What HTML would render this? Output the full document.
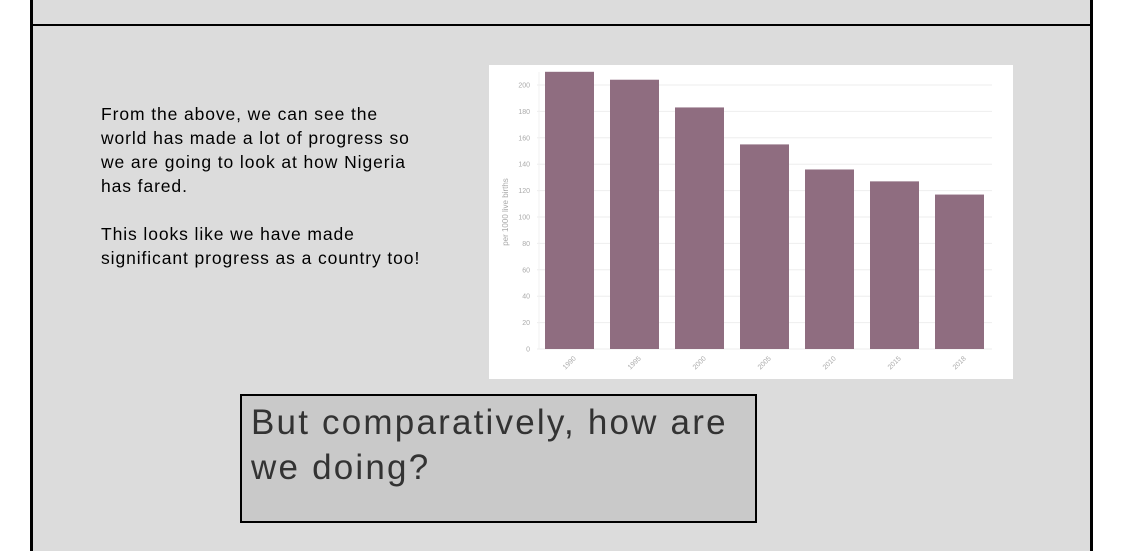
<!DOCTYPE html>
<html><head><meta charset="utf-8"><style>
body{margin:0;width:1122px;height:551px;background:#fff;position:relative;overflow:hidden;font-family:"Liberation Sans",sans-serif}
.panel{position:absolute;left:30px;top:0;width:1057px;height:551px;background:#dcdcdc;border-left:3px solid #000;border-right:3px solid #000}
.hline{position:absolute;left:33px;top:24px;width:1057px;height:2px;background:#000}
.txt{position:absolute;left:101px;top:102px;font-size:17.5px;line-height:24px;color:#000;white-space:nowrap;letter-spacing:0.9px}
.callout{position:absolute;left:240px;top:394px;width:517px;height:129px;background:#c9c9c9;border:2px solid #000;color:#333;font-size:35px;line-height:45px;padding:4px 0 0 9px;box-sizing:border-box;white-space:nowrap;letter-spacing:2.2px}
</style></head><body>
<div class="panel"></div>
<div class="hline"></div>
<div class="txt">From the above, we can see the<br>world has made a lot of progress so<br>we are going to look at how Nigeria<br>has fared.<br><br>This looks like we have made<br>significant progress as a country too!</div>
<svg id="chart" style="position:absolute;left:0;top:0" width="1122" height="551"></svg>
<div class="callout">But comparatively, how are<br>we doing?</div>
<script>
const categories=["1990","1995","2000","2005","2010","2015","2018"];
const values=[210,204,183,155,136,127,117];
const ticks=[0,20,40,60,80,100,120,140,160,180,200];
const NS="http://www.w3.org/2000/svg";
const svg=document.getElementById('chart');
function mk(t,a,p){const e=document.createElementNS(NS,t);for(const k in a)e.setAttribute(k,a[k]);(p||svg).appendChild(e);return e;}
const bg=mk('rect',{x:489,y:65,width:524,height:314,fill:'#fff'});


const x0=537,x1=992,y0=349,yTop=85;
function y(v){return y0-(v/200)*(y0-yTop);}
const band=(x1-x0)/categories.length;
function xc(i){return x0+band*(i+0.5);}
ticks.forEach(t=>{
 const l=mk('line',{x1:x0,x2:x1,y1:y(t),y2:y(t),stroke:'#eeeeee','stroke-width':1});
 
 
 const tx=mk('text',{x:x0-7,y:y(t)+2.5,'text-anchor':'end','font-size':7,fill:'#aaa'});
 tx.textContent=t;
 
 
});
const ax=mk('line',{x1:x0+2,x2:x0+2,y1:72,y2:y0,stroke:'#f0f0f0'});


values.forEach((v,i)=>{
 const w=49;
 const r=mk('rect',{x:xc(i)-w/2,y:y(v),width:w,height:y0-y(v),fill:'#8f6d80'});
 
 
 const t=mk('text',{x:xc(i),y:y0+16,'text-anchor':'middle','font-size':7,fill:'#aaa',transform:`rotate(-45 ${xc(i)} ${y0+14})`});
 t.textContent=categories[i];
 
 
});
const yt=mk('text',{x:508,y:212,'text-anchor':'middle','font-size':8,fill:'#aaa',transform:'rotate(-90 508 212)'});
yt.textContent='per 1000 live births';


</script>
</body></html>
